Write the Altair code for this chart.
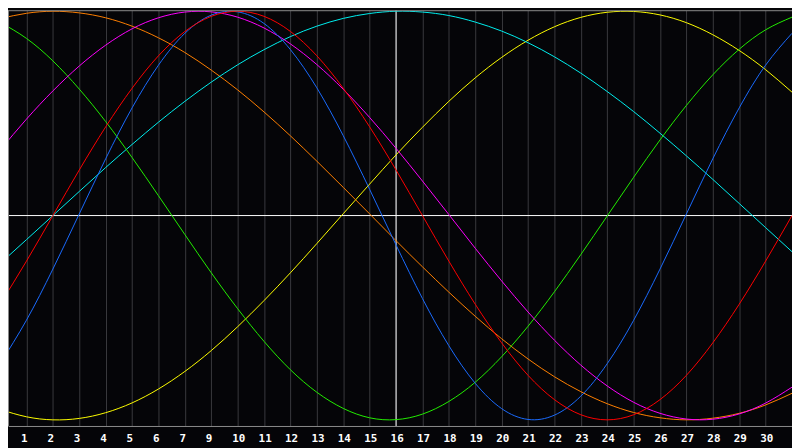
import json
import altair as alt
import pandas as pd

# ---- data (value range -1 .. +1) ----
days = [0, 1, 2, 3, 4, 5, 6, 7, 8, 9, 10, 11, 12, 13, 14, 15,
        16, 17, 18, 19, 20, 21, 22, 23, 24, 25, 26, 27, 28, 29, 30]

red = [-0.434, -0.223, 0.0, 0.223, 0.434, 0.623, 0.782, 0.901, 0.975, 1.0,
       0.975, 0.901, 0.782, 0.623, 0.434, 0.223, 0.0, -0.223, -0.434, -0.623,
       -0.782, -0.901, -0.975, -1.0, -0.975, -0.901, -0.782, -0.623, -0.434,
       -0.223, 0.0]

blue = [-0.725, -0.512, -0.262, 0.008, 0.278, 0.527, 0.736, 0.892, 0.981, 0.997,
        0.940, 0.812, 0.625, 0.391, 0.128, -0.144, -0.406, -0.637, -0.821, -0.945,
        -0.998, -0.977, -0.884, -0.725, -0.513, -0.262, 0.008, 0.278, 0.527,
        0.736, 0.892]

green = [0.946, 0.867, 0.757, 0.619, 0.460, 0.284, 0.097, -0.093, -0.280, -0.456,
         -0.616, -0.755, -0.865, -0.944, -0.990, -0.999, -0.972, -0.910, -0.816,
         -0.691, -0.542, -0.373, -0.191, -0.002, 0.187, 0.370, 0.539, 0.689,
         0.814, 0.909, 0.971]

yellow = [-0.949, -0.985, -1.0, -0.993, -0.965, -0.917, -0.849, -0.763, -0.661,
          -0.544, -0.416, -0.280, -0.137, 0.009, 0.154, 0.297, 0.432, 0.559,
          0.674, 0.774, 0.858, 0.924, 0.970, 0.995, 0.999, 0.982, 0.944, 0.885,
          0.808, 0.714, 0.604]

orange = [0.964, 0.990, 1.0, 0.992, 0.968, 0.927, 0.870, 0.798, 0.712, 0.615,
          0.507, 0.390, 0.266, 0.138, 0.008, -0.123, -0.251, -0.375, -0.493,
          -0.603, -0.702, -0.789, -0.862, -0.921, -0.964, -0.990, -1.0, -0.992,
          -0.968, -0.927, -0.870]

magenta = [0.320, 0.472, 0.610, 0.732, 0.834, 0.914, 0.968, 0.996, 0.997, 0.971,
           0.918, 0.840, 0.739, 0.618, 0.480, 0.329, 0.169, 0.005, -0.160, -0.320,
           -0.472, -0.610, -0.732, -0.834, -0.914, -0.968, -0.996, -0.997, -0.971,
           -0.918, -0.840]

cyan = [-0.235, -0.118, 0.0, 0.118, 0.235, 0.348, 0.457, 0.559, 0.653, 0.738,
        0.812, 0.876, 0.927, 0.965, 0.989, 1.0, 0.996, 0.979, 0.947, 0.903,
        0.846, 0.777, 0.697, 0.607, 0.509, 0.403, 0.292, 0.177, 0.059, -0.059,
        -0.177]

series_names = ["Aesthetic", "Awareness", "Spiritual", "Intellectual",
                "Intuitive", "Physical", "Emotional"]
series_colors = ["#ffff00", "#ff8000", "#00f0f0", "#22ee00",
                 "#ff00ff", "#1a6bff", "#ff0000"]
series_values = [yellow, orange, cyan, green, magenta, blue, red]

tick_values = [1, 2, 3, 4, 5, 6, 7, 8, 9, 10, 11, 12, 13, 14, 15,
               16, 17, 18, 19, 20, 21, 22, 23, 24, 25, 26, 27, 28, 29]
tick_labels = ["1", "2", "3", "4", "5", "6", "7", "9", "10", "11", "12",
               "13", "14", "15", "16", "17", "18", "19", "20", "21", "22",
               "23", "24", "25", "26", "27", "28", "29", "30"]

today = [15]
zero_level = [0]

# ---- table ----
rows = []
for name, vals in zip(series_names, series_values):
    for d, v in zip(days, vals):
        rows.append({"series": name, "day": d, "value": v})
df = pd.DataFrame(rows)

W, H = 792, 420
xs = alt.Scale(domain=[0.3, 30], nice=False, zero=False)
ys = alt.Scale(domain=[-1.03, 1.005], nice=False, zero=False)

label_expr = json.dumps(tick_labels) + "[datum.value - 1]"
x_axis = alt.Axis(
    values=tick_values, labelExpr=label_expr, title=None,
    grid=True, gridColor="#3a3a3e", gridWidth=1,
    ticks=False, tickSize=0, domain=True, domainColor="#8c8c8c", domainWidth=1,
    labelAlign="left", labelOffset=-6, labelPadding=7, labelBaseline="top",
    labelFont="DejaVu Sans Mono", labelFontSize=11, labelFontWeight="bold",
    labelColor="#ffffff", labelOverlap=False, labelFlush=False, labelBound=False,
)


def xenc():
    return alt.X("day:Q", scale=xs, axis=x_axis)


def yenc():
    return alt.Y("value:Q", scale=ys, axis=None)


zero_rule = alt.Chart(pd.DataFrame({"value": zero_level})).mark_rule(
    color="#ffffff", strokeWidth=1).encode(y=yenc())

today_rule = alt.Chart(pd.DataFrame({"day": today})).mark_rule(
    color="#ffffff", strokeWidth=1).encode(x=xenc())

lines = alt.Chart(df).mark_line(strokeWidth=1, interpolate="natural", clip=True).encode(
    x=xenc(),
    y=yenc(),
    color=alt.Color("series:N", scale=alt.Scale(domain=series_names, range=series_colors),
                    legend=None),
)

top_border = alt.Chart(pd.DataFrame({"day": today})).mark_rule(
    color="#8c8c8c", strokeWidth=1).encode(
    x=alt.value(0), x2=alt.value(W), y=alt.value(0.5))
left_border = alt.Chart(pd.DataFrame({"day": today})).mark_rule(
    color="#8c8c8c", strokeWidth=1).encode(
    x=alt.value(0.5), y=alt.value(0), y2=alt.value(H))

chart = alt.layer(zero_rule, today_rule, lines, top_border, left_border).properties(
    width=W, height=H,
    padding={"left": 0, "top": 0, "right": 0, "bottom": 20},
    autosize=alt.AutoSizeParams(type="none"),
    background="#050508",
).configure_view(stroke=None)

chart.save("out.html", embed_options={"renderer": "svg", "actions": False})
